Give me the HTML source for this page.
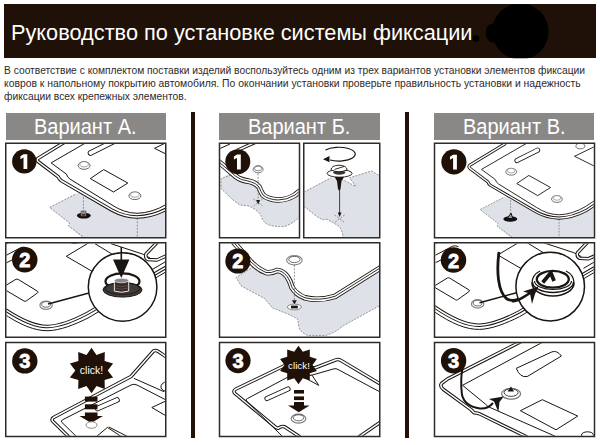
<!DOCTYPE html>
<html><head><meta charset="utf-8">
<style>
html,body{margin:0;padding:0;background:#fff;}
body{width:600px;height:445px;position:relative;overflow:hidden;font-family:"Liberation Sans",sans-serif;}
.hdr{position:absolute;left:4px;top:4.2px;width:592px;height:54px;background:#1f1107;}
.t{position:absolute;white-space:nowrap;transform-origin:0 0;}
.title{left:10.5px;top:20px;transform:scaleX(0.966);font-size:22.5px;color:#fff;}
.body{font-size:10.5px;color:#2e2a2a;left:5px;}
.ban{position:absolute;top:112.8px;height:27px;background:#8a8886;}
.bt{position:absolute;font-size:21.6px;color:#fff;white-space:nowrap;transform-origin:0 0;}
.div{position:absolute;top:111.7px;height:326px;width:3.6px;background:#1f1107;}
svg{position:absolute;left:0;top:0;}
</style></head><body>
<div class="hdr"></div>
<div class="t title" id="title">Руководство по установке системы фиксации</div>
<div class="t body" id="l1" style="top:64px;left:4px;transform:scaleX(0.977)">В соответствие с комплектом поставки изделий воспользуйтесь одним из трех вариантов установки элементов фиксации</div>
<div class="t body" id="l2" style="top:77px;left:4px;transform:scaleX(0.988)">ковров к напольному покрытию автомобиля. По окончании установки проверьте правильность установки и надежность</div>
<div class="t body" id="l3" style="top:89.5px;left:4px;transform:scaleX(0.978)">фиксации всех крепежных элементов.</div>
<div class="ban" style="left:6px;width:160px"></div>
<div class="ban" style="left:219px;width:161px"></div>
<div class="ban" style="left:434px;width:159.7px"></div>
<div class="bt" id="bA" style="left:34.4px;top:113.7px;transform:scaleX(0.926)">Вариант А.</div>
<div class="bt" id="bB" style="left:248px;top:113.7px;transform:scaleX(0.926)">Вариант Б.</div>
<div class="bt" id="bC" style="left:463px;top:113.7px;transform:scaleX(0.926)">Вариант В.</div>
<div class="div" style="left:191.1px"></div>
<div class="div" style="left:405.3px"></div>
<svg width="600" height="445" viewBox="0 0 600 445">
<defs>
<clipPath id="cA1"><rect x="6.5" y="144" width="158.5" height="93"/></clipPath>
<clipPath id="cA2"><rect x="6.5" y="243.5" width="158.5" height="93"/></clipPath>
<clipPath id="cA3"><rect x="6.5" y="343.25" width="158.5" height="92.5"/></clipPath>
<clipPath id="cB1a"><rect x="220.25" y="144" width="78.5" height="93"/></clipPath>
<clipPath id="cB1b"><rect x="304.5" y="144" width="74.5" height="93"/></clipPath>
<clipPath id="cB2"><rect x="220.25" y="243.5" width="158.75" height="93"/></clipPath>
<clipPath id="cB3"><rect x="220.25" y="343.25" width="158.75" height="92.5"/></clipPath>
<clipPath id="cC1"><rect x="435.25" y="144" width="158.5" height="93"/></clipPath>
<clipPath id="cC2"><rect x="435.25" y="243.5" width="158.5" height="93"/></clipPath>
<clipPath id="cC3"><rect x="435.25" y="343.25" width="158.5" height="92.5"/></clipPath>
<style>
.dl{fill:none;stroke:#1a1512;stroke-width:3.5;stroke-linejoin:round}
.dlw{fill:none;stroke:#fff;stroke-width:1.5;stroke-linejoin:round}
.ln{fill:none;stroke:#1a1512;stroke-width:1;stroke-linejoin:round}
.lnb{fill:none;stroke:#1a1512;stroke-width:1.4;stroke-linejoin:round}
.dash{fill:none;stroke:#555;stroke-width:0.6;stroke-dasharray:2 1.3}
.num{fill:#1f1107}
.nt{fill:#fff;stroke:#fff;stroke-width:0.8;font-family:"Liberation Sans",sans-serif;font-weight:bold;font-size:20px;text-anchor:middle}
.ck{fill:#fff;font-family:"Liberation Sans",sans-serif;font-size:10.5px;text-anchor:middle}
.gf{fill:#dee1e8}
</style>
</defs>
<g clip-path="url(#cA1)">
<g id="sA1">
 <path d="M49.5,207.5 L77,193 L182,193 L182,240 L85,240 L68.5,226 L69.5,223 Z" class="gf"/>
 <path class="dash" d="M75,194.5 L49.5,207.5 L69.5,223 L68.5,226 L86,239"/>
 <path class="dash" d="M137.3,218 L137.3,240"/>
 <path class="dash" d="M83.4,197 L83.4,211"/>
 <path fill="#fff" d="M78,134 L37.8,158.5 Q36.5,160 38,161.5 L58.3,176.8 Q59,179 61,180.5 L112,210.2 Q124,216.8 137,217 Q152,216.8 167,208.8 L182,199 L182,134 Z"/>
 <path class="dl" d="M78,134 L37.8,158.5 Q36.5,160 38,161.5 L58.3,176.8 Q59,179 61,180.5 L112,210.2 Q124,216.8 137,217 Q152,216.8 167,208.8 L182,199"/>
 <path class="dlw" d="M78,134 L37.8,158.5 Q36.5,160 38,161.5 L58.3,176.8 Q59,179 61,180.5 L112,210.2 Q124,216.8 137,217 Q152,216.8 167,208.8 L182,199"/>
 <path class="ln" d="M101,134 L51.1,162.9 L66.4,174.1 Q67.5,177.5 70,179.1 L112,205 Q124,213 137,213.3 Q152,213 167,204 L182,194"/>
 <path class="ln" d="M90.3,178.6 L103.7,169.6 L127.8,183 L113.5,192 Z"/>
 <path fill="none" stroke="#1a1512" stroke-width="5.6" stroke-linecap="round" d="M90.5,153 L113.5,141.5"/>
 <path fill="none" stroke="#fff" stroke-width="3.8" stroke-linecap="round" d="M90.5,153 L113.5,141.5"/>
 <path class="ln" d="M182,135 L154.5,148.3 L182,162"/>
 <ellipse cx="84.1" cy="165.5" rx="6" ry="3.8" fill="#fff" stroke="#555" stroke-width="0.9"/>
 <ellipse cx="84.1" cy="164.3" rx="4.2" ry="2.6" fill="#fff" stroke="#777" stroke-width="0.7"/>
 <ellipse cx="134.9" cy="195.8" rx="6" ry="3.8" fill="#fff" stroke="#555" stroke-width="0.9"/>
 <ellipse cx="134.9" cy="194.6" rx="4.2" ry="2.6" fill="#fff" stroke="#777" stroke-width="0.7"/>
 <ellipse cx="161" cy="137" rx="5" ry="3" fill="#fff" stroke="#555" stroke-width="0.9"/>
</g>
 <ellipse cx="83.8" cy="215.6" rx="7" ry="2.9" fill="#111"/>
 <rect x="81" y="211" width="5" height="5" fill="#8a8a8a" stroke="#555" stroke-width="0.6"/>
 <rect x="82" y="214" width="3" height="1.6" fill="#5a1a1a"/>
 <circle class="num" cx="24.3" cy="161.4" r="12.2"/>
 <path fill="#fff" transform="translate(24.3,161.4)" d="M-0.8,-7.1 H3 V7.7 H-0.8 V-3.8 L-3.9,-2.1 V-5.1 Z"/>
</g>
<g clip-path="url(#cA2)">
<g id="sA2">
 <path class="ln" d="M4,244.8 L11,242"/>
 <path class="ln" d="M4,256.5 L21,247.5 Q24,246.5 27,248"/>
 <path class="ln" d="M4,264 L14,259"/>
 <path class="ln" d="M93.5,240 L66.3,256.3 L95,273"/>
 <path class="ln" d="M2,287.8 L15.9,279.3 Q17,278.8 18.2,279.4 L37.6,291.3 Q38.6,292.2 37.4,293 L26.2,301 Q25.2,301.7 24,301 L2,288"/>
 <path class="ln" d="M95,243.7 L125,262"/>
 <path class="ln" d="M111,243.7 L142.4,254 L150,258"/>
 <path class="dl" d="M2,307.5 C20,320 35,327 48,326.5 C60,326 75,320 88,313 L175,262"/>
 <path class="dlw" d="M2,307.5 C20,320 35,327 48,326.5 C60,326 75,320 88,313 L175,262"/>
 <path class="ln" d="M2,312.5 C20,325 35,331 48,330.7 C60,330.5 75,324.5 88,318 L175,266.5"/>
 <path class="dl" d="M158.5,241 L146,254 Q145,258 148,259.5 L157,260 L175,252"/>
 <path class="dlw" d="M158.5,241 L146,254 Q145,258 148,259.5 L157,260 L175,252"/>
 <path class="ln" d="M152,269.7 L175,256"/>
 <ellipse cx="46.1" cy="305.2" rx="6.2" ry="4.2" fill="#fff" stroke="#888" stroke-width="1.2"/>
 <ellipse cx="46.1" cy="304.4" rx="4.4" ry="2.8" fill="#fff" stroke="#444" stroke-width="0.8"/>
 <path class="lnb" d="M48,304 L89,293"/>
 <ellipse cx="74.5" cy="241" rx="6" ry="3" fill="#1a1512"/>
</g>
 <circle cx="122.6" cy="287" r="34.3" fill="#fff" stroke="#1a1512" stroke-width="1.5"/>
 <path d="M120.5,247 h1.6 v13 h-1.6 z" fill="#1a1512"/>
 <path d="M113,259.6 L129.4,259.6 L121.3,278 Z" fill="#1a1512"/>
 <ellipse cx="122.5" cy="281.3" rx="17" ry="8" fill="none" stroke="#1a1512" stroke-width="2.2"/>
 <ellipse cx="122.5" cy="289.8" rx="19.5" ry="7.3" fill="#3f3c3a" stroke="#1a1512" stroke-width="1"/>
 <ellipse cx="122.5" cy="288.6" rx="17.5" ry="5.8" fill="none" stroke="#1a1512" stroke-width="0.9"/>
 <path d="M114.4,280.5 L114.4,291 Q121.5,293.5 128.7,291 L128.7,280.5 Z" fill="#3a2a25" stroke="#fff" stroke-width="0.9"/>
 <path d="M114.8,285.5 Q121.5,288 128.3,285.5 M114.8,288 Q121.5,290.5 128.3,288" fill="none" stroke="#6a5550" stroke-width="0.8"/>
 <ellipse cx="121.5" cy="280.5" rx="7.1" ry="2.3" fill="#8a8886" stroke="#fff" stroke-width="0.6"/>
 <circle class="num" cx="24.75" cy="259.75" r="12.75"/>
 <text class="nt" x="24.7" y="267.2">2</text>
</g>
<g clip-path="url(#cA3)">
 <path class="dl" d="M72,440 L53,421.5 Q50.8,419.5 53.5,417.5 L131,376.5 L153.5,351 Q155.5,349.8 157.5,351 L168,358"/>
 <path class="dlw" d="M72,440 L53,421.5 Q50.8,419.5 53.5,417.5 L131,376.5 L153.5,351 Q155.5,349.8 157.5,351 L168,358"/>
 <path class="ln" d="M80,440 L62,422.5 Q60.5,421 62.5,419.8 L131,385 Q134,383.5 137,385 L168,401"/>
 <path class="ln" d="M134,378.4 L164,391.7"/>
 <path fill="none" stroke="#1a1512" stroke-width="5.6" stroke-linecap="round" d="M97.5,408.5 L117,400"/>
 <path fill="none" stroke="#fff" stroke-width="3.8" stroke-linecap="round" d="M97.5,408.5 L117,400"/>
 <path class="ln" d="M168,400 L151.8,407.5 L168,417"/>
 <path class="ln" d="M96,437 L107.4,427.4 L122,437"/>
 <path class="ln" d="M108.8,427 L128.6,437"/>
 <path class="ln" d="M168,381 Q160,383 161,388 Q162,391 168,392"/>
 <polygon class="num" points="91.5,347.8 96.5,355.1 104.8,352.1 104.6,361.0 113.1,363.5 107.7,370.5 113.1,377.5 104.6,380.0 104.8,388.9 96.5,385.9 91.5,393.2 86.5,385.9 78.2,388.9 78.4,380.0 69.9,377.5 75.3,370.5 69.9,363.5 78.4,361.0 78.2,352.1 86.5,355.1"/>
 <text class="ck" x="91.5" y="373.5">click!</text>
 <rect x="84.9" y="396.6" width="12.6" height="5" class="num"/>
 <rect x="84.9" y="404.3" width="12.6" height="5" class="num"/>
 <path class="num" d="M84.9,412.6 H97.5 V415.9 H103 L91.2,423 L79.4,415.9 H84.9 Z"/>
 <ellipse cx="91.5" cy="425" rx="5.5" ry="3.3" fill="#fff" stroke="#888" stroke-width="1"/>
 <circle class="num" cx="24.8" cy="360.9" r="12.7"/>
 <text class="nt" x="24.7" y="367.8">3</text>
</g>
<g clip-path="url(#cB1a)">
 <path class="gf" d="M221,178.7 L232,172 L302,172 L302,214 Q296,222 285,226.5 Q275,227 268,224.7 Q262,221 261.9,218 Q260.5,213 256,210.1 Q250,206 247,205.7 L240,205 Q234,201 231.2,198.4 L225.3,192.5 Q221,189 221,187.4 Z"/>
 <path class="dash" d="M231,175 L221,178.7 L221,187.4 Q221,189 225.3,192.5 L231.2,198.4 Q234,201 240,205 L247,205.7 Q250,206 256,210.1 Q260.5,213 261.9,218 Q262,221 268,224.7 Q275,227 285,226.5 Q296,222 302,214"/>
 <path fill="#fff" d="M216,157 L236,174.5 Q240,178 250,179.5 Q256,181 259,185 Q261,190 263,193 Q268,197.5 278,198 Q287,198 295,193 L303,186.5 L303,140 L216,140 Z"/>
 <path fill="none" stroke="#1a1512" stroke-width="5.6" stroke-linejoin="round" d="M216,159.5 L236,176.5 Q240,180 250,181.5 Q256,183 259,187 Q261,192 263,195 Q268,199.5 278,200 Q287,200 295,195 L303,188.5"/>
 <path fill="none" stroke="#fff" stroke-width="3.9" stroke-linejoin="round" d="M216,159.5 L236,176.5 Q240,180 250,181.5 Q256,183 259,187 Q261,192 263,195 Q268,199.5 278,200 Q287,200 295,195 L303,188.5"/>
 <path fill="none" stroke="#1a1512" stroke-width="0.9" stroke-linejoin="round" d="M216,159.5 L236,176.5 Q240,180 250,181.5 Q256,183 259,187 Q261,192 263,195 Q268,199.5 278,200 Q287,200 295,195 L303,188.5"/>
 <path class="ln" d="M220,148.5 L230,144"/>
 <path class="dl" d="M237,150.5 L256,142"/>
 <path class="dlw" d="M237,150.5 L256,142"/>
 <ellipse cx="258.1" cy="169.3" rx="5" ry="3.6" fill="#fff" stroke="#777" stroke-width="1"/>
 <ellipse cx="258.1" cy="168.5" rx="3.6" ry="2.4" fill="#fff" stroke="#555" stroke-width="0.7"/>
 <path class="dash" d="M258.1,173.5 V200"/>
 <path d="M256.2,200 L260,200 L258.2,204.5 Z" fill="#1a1512"/>
 <path class="dash" d="M253.6,199 L262.6,206 M262.6,199 L253.6,206"/>
 <circle class="num" cx="237.8" cy="161.7" r="12.5"/>
 <path fill="#fff" transform="translate(237.8,161.7)" d="M-0.8,-7.1 H3 V7.7 H-0.8 V-3.8 L-3.9,-2.1 V-5.1 Z"/>
</g>
<g clip-path="url(#cB1b)">
 <path class="gf" d="M304,192.1 L330.9,177.8 L341.5,179 L355.9,186.5 L349.6,177.8 L371.5,170.9 L380,176 L380,238 L342.75,238 L342.75,235 Q342,230 339,226.25 L327.75,219.4 Q325,219 322.75,220 L316.5,216.25 L304,206.25 Z"/>
 <path class="dash" d="M304,192.1 L330.9,177.8 M341.5,179 L355.9,186.5 L349.6,177.8 L371.5,170.9 L380,176 M304,206.25 L316.5,216.25 L322.75,220 Q325,219 327.75,219.4 L339,226.25 Q342,230 342.75,235 L342.75,238"/>
 <path d="M325.5,150 A16.5,6.9 0 1 1 330,160" fill="none" stroke="#1a1512" stroke-width="1.2"/>
 <path d="M323,159.2 L329.5,156 L329.5,162.2 Z" fill="#1a1512"/>
 <ellipse cx="339.6" cy="173.4" rx="12.5" ry="3.8" fill="#fff" stroke="#1a1512" stroke-width="0.9"/>
 <ellipse cx="339.3" cy="172.5" rx="6.2" ry="2.2" fill="#3a3634"/>
 <path d="M331,170 Q331,165.5 339,165.2 Q347,165.5 347,170 Q339,173.5 331,170 Z" fill="#fff" stroke="#1a1512" stroke-width="0.9"/>
 <path d="M334.6,169.4 L344,166.5" stroke="#1a1512" stroke-width="0.9"/>
 <path d="M334.6,177.1 L344,177.1 L341.5,181 L340.5,189 L339.2,191 L338,189 L337,181 Z" fill="#1a1512"/>
 <path d="M339.6,188 V213" stroke="#1a1512" stroke-width="0.8"/>
 <path d="M337.8,212.5 L341.5,212.5 L339.6,217 Z" fill="#1a1512"/>
 <path class="dash" d="M334.6,215 L344.6,222.5 M344.6,215 L334.6,222.5"/>
</g>
<g clip-path="url(#cB2)">
 <path class="gf" d="M236.2,277.4 L253.7,266 L382,266 L382,304.4 L343.3,325.7 Q335,333 325.5,335.5 L307.8,335.5 Q300,332 298.9,327.5 Q298,320 297.1,318.6 L290,315 L286.3,313.4 L272.6,308 L264.4,298.4 L241.2,286 Z"/>
 <path class="dash" d="M253.7,266.6 L236.2,277.4 L241.2,286 L264.4,298.4 L272.6,308 L286.3,313.4 L290,315 L297.1,318.6 Q298,320 298.9,327.5 Q300,332 307.8,335.5 L325.5,335.5 Q335,333 343.3,325.7 L382,304.4"/>
 <path fill="#fff" d="M233,240 L251,259.7 Q258,267.2 266,270.2 Q271,271.2 277,268.2 Q282,268 287,274 Q290,278 292,285 Q296,292 305,295.5 Q319,299 335,294 L382,264.5 L382,240 Z"/>
 <path fill="none" stroke="#1a1512" stroke-width="5.6" stroke-linejoin="round" d="M233,241.5 L251,262 Q258,269.5 266,272.5 Q271,273.5 277,270.5 Q282,270.3 287,276.3 Q290,280.3 292,287.3 Q296,294.3 305,297.8 Q319,301.3 335,296.3 L382,266.8"/>
 <path fill="none" stroke="#fff" stroke-width="3.9" stroke-linejoin="round" d="M233,241.5 L251,262 Q258,269.5 266,272.5 Q271,273.5 277,270.5 Q282,270.3 287,276.3 Q290,280.3 292,287.3 Q296,294.3 305,297.8 Q319,301.3 335,296.3 L382,266.8"/>
 <path fill="none" stroke="#1a1512" stroke-width="0.9" stroke-linejoin="round" d="M233,241.5 L251,262 Q258,269.5 266,272.5 Q271,273.5 277,270.5 Q282,270.3 287,276.3 Q290,280.3 292,287.3 Q296,294.3 305,297.8 Q319,301.3 335,296.3 L382,266.8"/>
 <ellipse cx="294.4" cy="260.3" rx="7.8" ry="4.6" fill="#fff" stroke="#888" stroke-width="1.2"/>
 <ellipse cx="294.4" cy="259.5" rx="5.6" ry="3.1" fill="#fff" stroke="#444" stroke-width="0.8"/>
 <path class="dash" d="M294.4,265 V300.5" stroke="#222" stroke-width="0.8"/>
 <path d="M292,300.2 L296.8,300.2 L294.4,304.4 Z" fill="#1a1512"/>
 <ellipse cx="294.4" cy="307" rx="7" ry="2.9" fill="#fff" stroke="#888" stroke-width="1"/>
 <rect x="291" y="305.6" width="6.8" height="2.8" fill="#1a1512"/>
 <circle class="num" cx="237.9" cy="261" r="12.6"/>
 <text class="nt" x="237.9" y="268.3">2</text>
</g>
<g clip-path="url(#cB3)">
 <path class="dl" d="M300,437 L284.6,426.8 Q281,426 278.7,428 Q277,428.5 275.8,427.3 L235,393.5 Q232.5,390.8 236,389 L290,363 L314.7,368 L336,359.8 Q338.5,359 341,360.5 L382,385"/>
 <path class="dlw" d="M300,437 L284.6,426.8 Q281,426 278.7,428 Q277,428.5 275.8,427.3 L235,393.5 Q232.5,390.8 236,389 L290,363 L314.7,368 L336,359.8 Q338.5,359 341,360.5 L382,385"/>
 <path class="ln" d="M283,437 L246.5,401 Q245,399.5 247.5,398.5 L289,376.5 L311.3,375.3 L334,368.8 Q336,368.2 338,369.5 L382,393"/>
 <path fill="none" stroke="#1a1512" stroke-width="5.2" stroke-linecap="round" d="M267,398.5 L288,389"/>
 <path fill="none" stroke="#fff" stroke-width="3.4" stroke-linecap="round" d="M267,398.5 L288,389"/>
 <path class="dl" d="M356,439 L382,421"/>
 <path class="dlw" d="M356,439 L382,421"/>
 <path d="M303.5,377 L318.7,385.4 L311.9,375 Z" fill="#fff" stroke="#1a1512" stroke-width="1"/>
 <polygon class="num" points="298.5,345.7 302.8,351.7 309.8,349.4 309.8,356.8 316.9,359.0 312.5,365.0 316.9,371.0 309.8,373.2 309.8,380.6 302.8,378.3 298.5,384.3 294.2,378.3 287.2,380.6 287.2,373.2 280.1,371.0 284.5,365.0 280.1,359.0 287.2,356.8 287.2,349.4 294.2,351.7"/>
 <text class="ck" x="299" y="369" style="font-size:9.8px">click!</text>
 <rect x="294" y="390" width="10" height="3.6" class="num"/>
 <rect x="294" y="396.4" width="10" height="3.7" class="num"/>
 <path class="num" d="M294,402 H304 V405.6 H309.6 L298.8,412.3 L288,405.6 H294 Z"/>
 <ellipse cx="298.5" cy="418.6" rx="7.4" ry="4.5" fill="#fff" stroke="#777" stroke-width="1.1"/>
 <ellipse cx="298.5" cy="417.8" rx="5.3" ry="3" fill="#fff" stroke="#444" stroke-width="0.8"/>
 <circle class="num" cx="238" cy="360.6" r="12.6"/>
 <text class="nt" x="238" y="367.8">3</text>
</g>
<g clip-path="url(#cC1)">
 <use href="#sA1" transform="translate(435.5,22.8) scale(0.9)"/>
 <ellipse cx="510.3" cy="219" rx="7" ry="2.8" fill="#111"/>
 <path d="M507.3,218.5 L511,213 L512.8,218.5 Z" fill="#999" stroke="#111" stroke-width="1"/>
 <circle class="num" cx="453.9" cy="161.8" r="12.6"/>
 <path fill="#fff" transform="translate(453.9,161.8)" d="M-0.8,-7.1 H3 V7.7 H-0.8 V-3.8 L-3.9,-2.1 V-5.1 Z"/>
</g>
<g clip-path="url(#cC2)">
 <use href="#sA2" transform="translate(431.5,-1.3)"/>
 <path d="M499,252 C496.5,270 497.5,292 507,299 C514,303 522,298 531,292" fill="none" stroke="#1a1512" stroke-width="2.8"/>
 <circle cx="550.2" cy="286.6" r="34.3" fill="#fff" stroke="#1a1512" stroke-width="1.5"/>
 <path d="M512,301 C517,302 522,298 530,293" fill="none" stroke="#1a1512" stroke-width="2.6"/>
 <path d="M532,283 A21,13 0 0 0 574,283" fill="none" stroke="#1a1512" stroke-width="1.6"/>
 <path d="M532.5,282 A20.5,10.5 0 0 0 573.5,282" fill="none" stroke="#1a1512" stroke-width="1.5"/>
 <path d="M534.5,281 A18.5,8.5 0 0 0 571.5,281" fill="none" stroke="#1a1512" stroke-width="1.2"/>
 <path d="M532,283 Q532,275 540,271" fill="none" stroke="#1a1512" stroke-width="1.2"/>
 <path d="M574,283 Q574,275 566,271" fill="none" stroke="#1a1512" stroke-width="1.2"/>
 <ellipse cx="552.8" cy="279.3" rx="16" ry="8.4" fill="#fff" stroke="#1a1512" stroke-width="2.3"/>
 <path d="M542.7,282.5 L550.8,272.8 L554.1,281" fill="none" stroke="#1a1512" stroke-width="3.8" stroke-linejoin="round"/>
 <path d="M538.5,286.5 L523,291.5 L530,293.5 L532,304 L535,294 Z" fill="#1a1512"/>
 <circle class="num" cx="453.5" cy="260.1" r="12.75"/>
 <text class="nt" x="453.5" y="267.5">2</text>
</g>
<g clip-path="url(#cC3)">
 <path class="dl" d="M527,437 L479.4,413.8 Q476,413 474.1,412.8 Q472.5,411 471,409.6 L443.5,389.5 Q439.5,386.5 441.5,383.5 L447.7,378.9 L528,338"/>
 <path class="dlw" d="M527,437 L479.4,413.8 Q476,413 474.1,412.8 Q472.5,411 471,409.6 L443.5,389.5 Q439.5,386.5 441.5,383.5 L447.7,378.9 L528,338"/>
 <path class="ln" d="M543,342 L462.5,385.3 L485.7,404.3 Q487,406 490,407.5 L575,445"/>
 <path class="ln" d="M516.3,368.3 L551.9,351.9 Q557,350 561.4,356 L527.3,376.5 Q520,378 516.3,368.3 Z"/>
 <path class="ln" d="M520.4,410.7 L542.3,399.7 L577.8,416.1 L556,429.8 Z"/>
 <ellipse cx="587.5" cy="435" rx="6" ry="3.2" fill="#fff" stroke="#1a1512" stroke-width="1"/>
 <ellipse cx="511.1" cy="393.8" rx="9.5" ry="5.4" fill="#fff" stroke="#777" stroke-width="1.2"/>
 <ellipse cx="511.1" cy="392.6" rx="7" ry="3.8" fill="#fff" stroke="#333" stroke-width="0.9"/>
 <path d="M507.5,391.5 L511,386.5 L514,391.5 Z" fill="#1a1512"/>
 <path d="M463,366 C461.5,372 460.8,385 462,395 C464,403 470,407 480,408.5 C486,409 490,406.5 493,403" fill="none" stroke="#1a1512" stroke-width="2"/>
 <path d="M503.7,396.5 L489,399 L494,401.5 L498.4,412 L499.5,402 Z" fill="#1a1512"/>
 <circle class="num" cx="453.6" cy="360.8" r="12.7"/>
 <text class="nt" x="453.5" y="368">3</text>
</g>
<g fill="none" stroke="#2f2c28" stroke-width="1.5">
<rect x="5.75" y="143.25" width="160" height="94.5"/>
<rect x="5.75" y="242.75" width="160" height="94.5"/>
<rect x="5.75" y="342.5" width="160" height="94"/>
<rect x="219.5" y="143.25" width="80" height="94.5"/>
<rect x="303.75" y="143.25" width="76" height="94.5"/>
<rect x="219.5" y="242.75" width="160.25" height="94.5"/>
<rect x="219.5" y="342.5" width="160.25" height="94"/>
<rect x="434.5" y="143.25" width="160" height="94.5"/>
<rect x="434.5" y="242.75" width="160" height="94.5"/>
<rect x="434.5" y="342.5" width="160" height="94"/>
</g>
<clipPath id="cHdr"><rect x="4" y="4.2" width="592" height="54"/></clipPath>
<g clip-path="url(#cHdr)" fill="#000">
<circle cx="520.3" cy="31.5" r="28.2"/>
<ellipse cx="492.2" cy="33" rx="6.5" ry="9.5"/>
<circle cx="475.9" cy="38.6" r="3.4"/>
</g>
</svg>
</body></html>
